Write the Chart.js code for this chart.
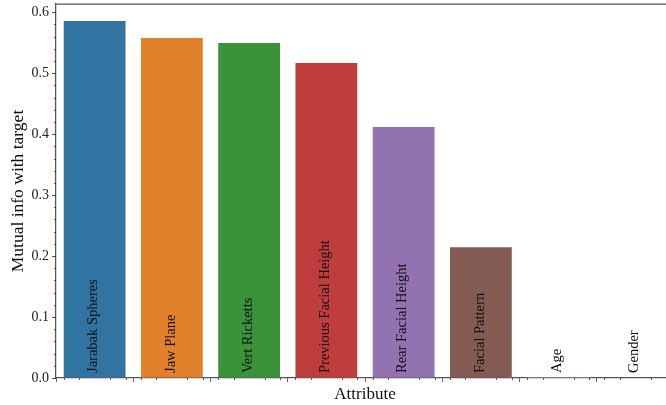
<!DOCTYPE html>
<html>
<head>
<meta charset="utf-8">
<script src="https://cdn.jsdelivr.net/npm/chart.js@4"></script>
<style>
    html, body { margin: 0; padding: 0; background: #fff; overflow: hidden; }
    #wrap { width: 666px; height: 405px; overflow: hidden; }
    #box { width: 680px; height: 405px; }
</style>
</head>
<body>
<div id="wrap"><div id="box"><canvas id="chart"></canvas></div></div>
<script>
// Data
const attributes = ['Jarabak Spheres', 'Jaw Plane', 'Vert Ricketts', 'Previous Facial Height',
    'Rear Facial Height', 'Facial Pattern', 'Age', 'Gender'];
const mutualInfo = [0.5857, 0.5578, 0.5496, 0.5167, 0.4117, 0.2146, 0.0015, 0.0];
const barColors = ['#3274a1', '#e1812c', '#3a923a', '#c03d3e', '#9372b2', '#845b53', '#d684bd', '#7f7f7f'];
const yTicks = [0.0, 0.1, 0.2, 0.3, 0.4, 0.5, 0.6];

const FONT = "'Liberation Serif', 'DejaVu Serif', serif";
const AXIS_COLOR = '#555';

// Minor ticks, top spine and the rotated labels inside the bars
const decorPlugin = {
    id: 'decor',
    afterDraw(chart) {
        const ctx = chart.ctx;
        const area = chart.chartArea;
        const x = chart.scales.x;
        const y = chart.scales.y;
        ctx.save();

        // top spine
        ctx.strokeStyle = AXIS_COLOR;
        ctx.lineWidth = 1.25;
        ctx.beginPath();
        ctx.moveTo(area.left, area.top);
        ctx.lineTo(area.right + 2, area.top);
        ctx.stroke();

        // minor ticks
        ctx.lineWidth = 0.8;
        ctx.strokeStyle = '#333';
        ctx.beginPath();
        for (let v = 0; v <= y.max + 1e-9; v += 0.02) {
            const py = Math.round(y.getPixelForValue(v)) + 0.5;
            ctx.moveTo(area.left - 2, py);
            ctx.lineTo(area.left, py);
        }
        const catWidth = x.getPixelForValue(1) - x.getPixelForValue(0);
        attributes.forEach((a, i) => {
            [-0.4, -0.2, 0.2, 0.4].forEach(off => {
                const px = Math.round(x.getPixelForValue(i) + off * catWidth) + 0.5;
                ctx.moveTo(px, area.bottom);
                ctx.lineTo(px, area.bottom + 2);
            });
        });
        ctx.stroke();

        // labels inside bars
        const meta = chart.getDatasetMeta(0);
        ctx.fillStyle = '#111';
        ctx.font = '14.5px ' + FONT;
        ctx.textAlign = 'left';
        ctx.textBaseline = 'middle';
        meta.data.forEach((bar, i) => {
            ctx.save();
            ctx.translate(bar.x - 1, area.bottom - 5);
            ctx.rotate(-Math.PI / 2);
            ctx.fillText(attributes[i], 0, 0);
            ctx.restore();
        });
        ctx.restore();
    }
};

const ctx = document.getElementById('chart').getContext('2d');
new Chart(ctx, {
    type: 'bar',
    data: {
        labels: attributes,
        datasets: [{
            data: mutualInfo,
            backgroundColor: barColors,
            borderWidth: 0,
            categoryPercentage: 0.8,
            barPercentage: 1.0
        }]
    },
    options: {
        responsive: true,
        maintainAspectRatio: false,
        animation: false,
        layout: { padding: { top: 4, right: 6, bottom: 0, left: 0 } },
        plugins: {
            legend: { display: false },
            tooltip: { enabled: false }
        },
        scales: {
            x: {
                grid: { display: true, drawOnChartArea: false, drawTicks: true, tickLength: 4, color: '#333', lineWidth: 0.8 },
                border: { display: true, color: AXIS_COLOR, width: 1.25 },
                ticks: { display: false },
                title: {
                    display: true,
                    text: 'Attribute',
                    color: '#111',
                    font: { family: FONT, size: 17 },
                    padding: { top: 0, bottom: 0 }
                },
                afterFit(scale) {
                    scale.height = 27;
                    scale.paddingLeft = 0;
                    scale.paddingRight = 0;
                }
            },
            y: {
                min: 0,
                max: 0.6135,
                afterBuildTicks(scale) { scale.ticks = yTicks.map(v => ({ value: v })); },
                grid: { display: true, drawOnChartArea: false, drawTicks: true, tickLength: 4, color: '#333', lineWidth: 0.8 },
                border: { display: true, color: AXIS_COLOR, width: 1.25 },
                ticks: {
                    color: '#222',
                    padding: 3,
                    font: { family: FONT, size: 14 },
                    callback: v => v.toFixed(1)
                },
                title: {
                    display: true,
                    text: 'Mutual info with target',
                    color: '#111',
                    font: { family: FONT, size: 17.5 },
                    padding: { top: 8, bottom: 0 }
                },
                afterFit(scale) {
                    scale.width = 56;
                    scale.paddingTop = 0;
                    scale.paddingBottom = 0;
                }
            }
        }
    },
    plugins: [decorPlugin]
});
</script>
</body>
</html>
